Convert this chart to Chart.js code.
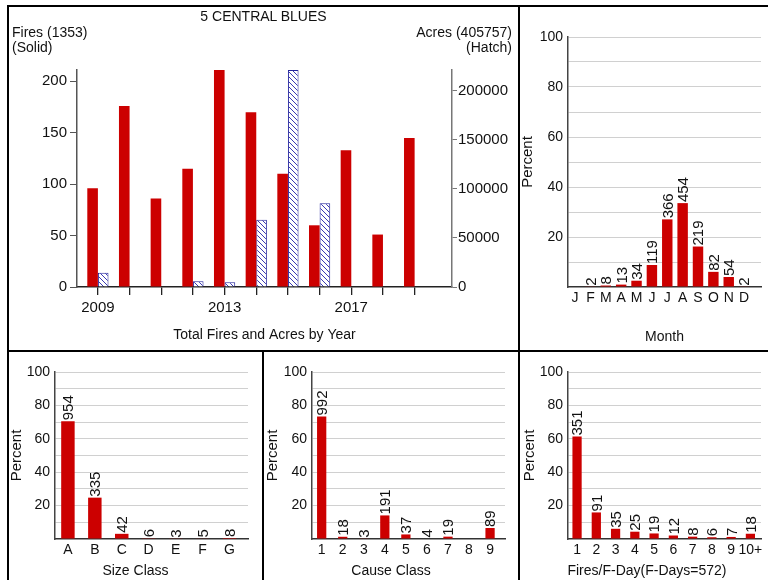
<!DOCTYPE html>
<html>
<head>
<meta charset="utf-8">
<script src="https://cdn.jsdelivr.net/npm/chart.js@4.4.0/dist/chart.umd.min.js"></script>
<style>
  body { margin: 0; background: #fff; }
  #page { position: relative; width: 768px; height: 580px; overflow: hidden; background: #fff;
          font-family: 'Liberation Sans', Arial, sans-serif; color: #111; }
  #page canvas { position: absolute; }
  .ln { position: absolute; background: #000; }
  .txt { position: absolute; font-size: 14px; line-height: 15px; white-space: nowrap; }
</style>
</head>
<body>
<div id="page">
  <canvas id="year-chart" width="509" height="343" style="left:9px;top:7px"></canvas>
  <canvas id="month-chart" width="248" height="343" style="left:520px;top:7px"></canvas>
  <canvas id="size-chart" width="253" height="228" style="left:9px;top:352px"></canvas>
  <canvas id="cause-chart" width="254" height="228" style="left:264px;top:352px"></canvas>
  <canvas id="fday-chart" width="248" height="228" style="left:520px;top:352px"></canvas>

  <div class="ln" style="left:7px;top:5px;width:761px;height:2px"></div>
  <div class="ln" style="left:7px;top:5px;width:2px;height:575px"></div>
  <div class="ln" style="left:518px;top:5px;width:2px;height:346px"></div>
  <div class="ln" style="left:7px;top:350px;width:761px;height:2px"></div>
  <div class="ln" style="left:262px;top:350px;width:2px;height:230px"></div>
  <div class="ln" style="left:518px;top:350px;width:2px;height:230px"></div>

  <div class="txt" style="left:9px;top:9px;width:509px;text-align:center">5 CENTRAL BLUES</div>
  <div class="txt" style="left:12px;top:25px">Fires (1353)<br>(Solid)</div>
  <div class="txt" style="left:300px;top:25px;width:212px;text-align:right">Acres (405757)<br>(Hatch)</div>
  <div class="txt" style="left:9px;top:563px;width:253px;text-align:center">Size Class</div>
  <div class="txt" style="left:264px;top:563px;width:254px;text-align:center">Cause Class</div>
  <div class="txt" style="left:523px;top:563px;width:248px;text-align:center">Fires/F-Day(F-Days=572)</div>
</div>

<script>
// yearly totals
const years = [2009, 2010, 2011, 2012, 2013, 2014, 2015, 2016, 2017, 2018, 2019];
const yearFires = [96, 176, 86, 115, 211, 170, 110, 60, 133, 51, 145];
const yearAcres = [14600, 0, 0, 5800, 4750, 68600, 221000, 85200, 0, 0, 0];
const yearTickLabels = [2009, 2013, 2017];
const fireTicks = [0, 50, 100, 150, 200];
const acreTicks = [0, 50000, 100000, 150000, 200000];
const percentTicks = [0, 10, 20, 30, 40, 50, 60, 70, 80, 90, 100];

// fire counts per class
const months = ['J', 'F', 'M', 'A', 'M', 'J', 'J', 'A', 'S', 'O', 'N', 'D'];
const monthFires = [0, 2, 8, 13, 34, 119, 366, 454, 219, 82, 54, 2];
const sizeClasses = ['A', 'B', 'C', 'D', 'E', 'F', 'G'];
const sizeFires = [954, 335, 42, 6, 3, 5, 8];
const causeClasses = ['1', '2', '3', '4', '5', '6', '7', '8', '9'];
const causeFires = [992, 18, 3, 191, 37, 4, 19, 0, 89];
const fdayClasses = ['1', '2', '3', '4', '5', '6', '7', '8', '9', '10+'];
const fdayFires = [351, 91, 35, 25, 19, 12, 8, 6, 7, 18];
const totalFires = 1353;
const totalFireDays = 572;

const FONT = "'Liberation Sans', Arial, sans-serif";
const RED = '#cc0000';
Chart.defaults.font.family = FONT;
Chart.defaults.color = '#111';

// blue hatch for the acres bars
const pc = document.createElement('canvas');
pc.width = 5; pc.height = 5;
const p = pc.getContext('2d');
p.fillStyle = '#fff';
p.fillRect(0, 0, 5, 5);
p.strokeStyle = '#3a3ab4';
p.lineWidth = 1;
p.beginPath();
p.moveTo(-1, -1); p.lineTo(6, 6);
p.moveTo(-1, 4); p.lineTo(1, 6);
p.moveTo(4, -1); p.lineTo(6, 1);
p.stroke();
const hatch = p.createPattern(pc, 'repeat');

const setTicks = values => scale => { scale.ticks = values.map(v => ({ value: v })); };

new Chart(document.getElementById('year-chart'), {
    type: 'bar',
    data: {
        datasets: [{
            label: 'Fires',
            data: years.map((yr, i) => ({ x: yr, y: yearFires[i] })),
            yAxisID: 'y',
            backgroundColor: RED,
            borderWidth: 0,
            categoryPercentage: 0.67,
            barPercentage: 1
        }, {
            label: 'Acres',
            data: years.map((yr, i) => ({ x: yr, y: yearAcres[i] })),
            yAxisID: 'y1',
            backgroundColor: hatch,
            borderColor: '#24249c',
            borderWidth: 1,
            categoryPercentage: 0.67,
            barPercentage: 1
        }]
    },
    options: {
        responsive: false,
        animation: false,
        layout: { padding: { top: 63, left: 0, right: 0, bottom: 0 } },
        plugins: { legend: { display: false }, tooltip: { enabled: false } },
        scales: {
            x: {
                type: 'linear', bounds: 'data', min: 2008.34, max: 2020.18, offset: false,
                grid: { offset: false, drawOnChartArea: false, tickLength: 8, color: '#222', lineWidth: 1.3 },
                border: { color: '#222', width: 1.5 },
                ticks: {
                    autoSkip: false, maxRotation: 0, padding: 4,
                    font: { size: 15 },
                    callback: v => yearTickLabels.includes(v) ? String(v) : ''
                },
                afterBuildTicks: setTicks(years),
                title: { display: true, text: 'Total Fires and Acres by Year', font: { size: 14 }, padding: { top: 0, bottom: 6.5 } },
                afterFit: s => { s.height = 63; }
            },
            y: {
                position: 'left', bounds: 'data', min: 0, max: Math.max(...yearFires),
                grid: { drawOnChartArea: false, tickLength: 7, color: '#555' },
                border: { color: '#555', width: 1.5 },
                ticks: { autoSkip: false, padding: 3, font: { size: 15 }, callback: v => String(v) },
                afterBuildTicks: setTicks(fireTicks),
                afterFit: s => { s.width = 68; }
            },
            y1: {
                position: 'right', bounds: 'data', min: 0, max: Math.max(...yearAcres),
                grid: { drawOnChartArea: false, tickLength: 5, color: '#777' },
                border: { color: '#777', width: 1.5 },
                ticks: { autoSkip: false, padding: 1, font: { size: 15 }, callback: v => String(v) },
                afterBuildTicks: setTicks(acreTicks),
                afterFit: s => { s.width = 66; }
            }
        }
    }
});

// rotated fire counts above each bar
const countLabels = {
    id: 'countLabels',
    afterDatasetsDraw(chart, args, opts) {
        const ctx = chart.ctx;
        const meta = chart.getDatasetMeta(0);
        ctx.save();
        ctx.font = '15px ' + FONT;
        ctx.fillStyle = '#111';
        ctx.textAlign = 'left';
        ctx.textBaseline = 'alphabetic';
        meta.data.forEach((bar, i) => {
            const n = opts.counts[i];
            if (!n) return;
            ctx.save();
            ctx.translate(bar.x, bar.y - 1);
            ctx.rotate(-Math.PI / 2);
            ctx.fillText(String(n), 0, 5.4);
            ctx.restore();
        });
        ctx.restore();
    }
};

function percentChart(id, labels, counts, total, o) {
    const data = counts.map((c, i) => ({ x: i, y: c / total * 100 }));
    return new Chart(document.getElementById(id), {
        type: 'bar',
        data: {
            datasets: [{ data: data, backgroundColor: RED, borderWidth: 0, categoryPercentage: o.bar, barPercentage: 1 }]
        },
        options: {
            responsive: false,
            animation: false,
            layout: { padding: { top: o.top, right: o.right, left: 0, bottom: 0 } },
            plugins: {
                legend: { display: false },
                tooltip: { enabled: false },
                countLabels: { counts: counts }
            },
            scales: {
                x: {
                    type: 'linear', bounds: 'data', min: o.min, max: o.max, offset: false,
                    grid: { offset: false, drawOnChartArea: false, drawTicks: false },
                    border: { color: '#333', width: 1.5 },
                    ticks: {
                        autoSkip: false, maxRotation: 0, padding: o.xpad,
                        font: { size: 14 },
                        callback: v => labels[v] !== undefined ? labels[v] : ''
                    },
                    afterBuildTicks: setTicks(labels.map((l, i) => i)),
                    title: o.xTitle
                        ? { display: true, text: o.xTitle, font: { size: 14 }, padding: { top: 0, bottom: 4 } }
                        : { display: false },
                    afterFit: s => { s.height = o.xh; }
                },
                y: {
                    bounds: 'data', min: 0, max: 100,
                    grid: { color: c => c.tick.value === 0 ? 'rgba(0,0,0,0)' : '#d0d0d0', drawTicks: false },
                    border: { color: '#444', width: 1.5 },
                    ticks: {
                        autoSkip: false, padding: 5,
                        font: { size: 14 },
                        callback: v => (v % 20 === 0 && v > 0) ? String(v) : ''
                    },
                    afterBuildTicks: setTicks(percentTicks),
                    title: { display: true, text: 'Percent', font: { size: 15, lineHeight: 1 }, padding: { top: o.ytp, bottom: 0 } },
                    afterFit: s => { s.width = o.yw; }
                }
            }
        },
        plugins: [countLabels]
    });
}

percentChart('month-chart', months, monthFires, totalFires,
    { bar: 0.68, top: 30, right: 7, min: -0.46, max: 12.1, xpad: 3, xh: 63, yw: 48, ytp: 0.5, xTitle: 'Month' });
percentChart('size-chart', sizeClasses, sizeFires, totalFires,
    { bar: 0.5, top: 20, right: 14, min: -0.48, max: 6.69, xpad: 3, xh: 41, yw: 46, ytp: 0 });
percentChart('cause-chart', causeClasses, causeFires, totalFires,
    { bar: 0.44, top: 20, right: 13, min: -0.46, max: 8.71, xpad: 3, xh: 41, yw: 48, ytp: 1 });
percentChart('fday-chart', fdayClasses, fdayFires, totalFireDays,
    { bar: 0.48, top: 20, right: 7, min: -0.47, max: 9.55, xpad: 3, xh: 41, yw: 48, ytp: 2 });
</script>
</body>
</html>
